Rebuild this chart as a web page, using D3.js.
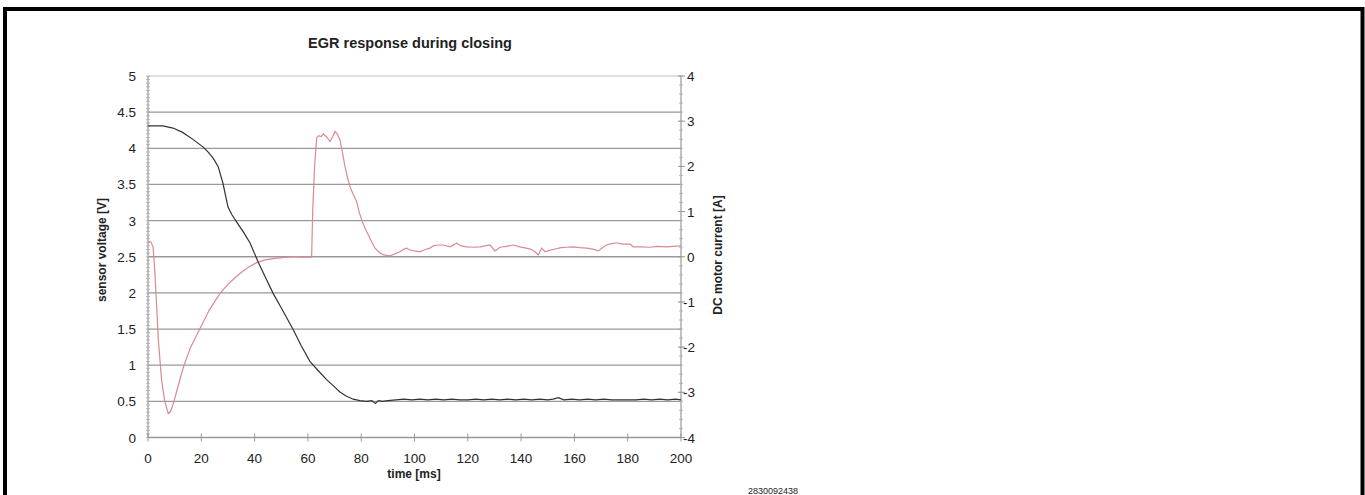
<!DOCTYPE html>
<html>
<head>
<meta charset="utf-8">
<script src="https://cdn.jsdelivr.net/npm/d3@7"></script>
<style>
  body { margin: 0; background: #fff; }
  svg text { font-family: "Liberation Sans", Arial, sans-serif; fill: #222; }
</style>
</head>
<body>
<svg id="chart" width="1365" height="495"></svg>
<script>
// sensor voltage [V] (black)
var voltTime = [0, 3, 5.6, 9.4, 13, 17, 20.6, 22.5, 24.5, 26.3, 28.1, 30, 31.5, 33.3, 36, 38.3, 41.3, 44, 47, 50.5,
    54.5, 57.5, 60.8, 64, 67, 70, 72, 74.5, 77, 79.5, 82, 84, 85.3, 86.5, 88, 90, 93, 96,
    99, 102, 105, 108, 111, 114, 117, 120, 123, 126, 129, 132, 135, 138, 141, 144, 147, 150,
    152, 154, 156, 159, 162, 165, 168, 171, 174, 177, 180, 183, 186, 189, 192, 195, 198, 200];
var voltValues = [4.31, 4.31, 4.31, 4.28, 4.22, 4.12, 4.02, 3.95, 3.86, 3.75, 3.52, 3.19, 3.08, 2.98, 2.83, 2.69, 2.43, 2.22, 1.99, 1.76,
    1.49, 1.27, 1.05, 0.92, 0.80, 0.70, 0.63, 0.57, 0.53, 0.51, 0.50, 0.51, 0.47, 0.51, 0.50, 0.51, 0.52, 0.53,
    0.52, 0.53, 0.52, 0.53, 0.52, 0.53, 0.52, 0.52, 0.53, 0.52, 0.53, 0.52, 0.53, 0.52, 0.53, 0.52, 0.53, 0.52,
    0.53, 0.55, 0.52, 0.53, 0.52, 0.53, 0.52, 0.53, 0.52, 0.52, 0.52, 0.52, 0.53, 0.52, 0.53, 0.52, 0.53, 0.52];

// DC motor current [A] (red)
var currTime = [0, 1, 1.9, 2.6, 3.9, 5.1, 6.3, 7.6, 8.5, 9.5, 11.3, 13.3, 16, 19.5, 23, 27, 30.5, 34.5, 37.5, 40.8,
    44, 47, 50.5, 54.5, 58, 61.4, 61.8, 62.5, 63.3, 64, 65, 65.8, 67, 68.3, 69.3, 70.2, 71, 72, 73, 73.9,
    75, 75.8, 77, 78.3, 79.2, 80.2, 81.5, 82.7, 84, 85.2, 86.7, 88.3, 90.8, 92.5, 94.6, 96, 97, 98.3, 100, 102,
    104, 105.8, 107, 108.8, 110.8, 113.3, 115.8, 117.5, 119.6, 122, 124.6, 126.5, 128.3, 130.2, 131, 132, 134.5, 137, 139.5, 142,
    143.5, 145.2, 146.4, 147.7, 149, 150.5, 152, 155, 157, 159.6, 162, 164.6, 167, 169, 170.5, 172, 174, 175.9, 178, 180.9,
    182, 185, 188.4, 191, 194.6, 197, 200];
var currValues = [0.33, 0.33, 0.22, -0.36, -1.85, -2.73, -3.2, -3.47, -3.42, -3.25, -2.86, -2.44, -2.0, -1.59, -1.18, -0.81, -0.58, -0.37, -0.24, -0.13,
    -0.07, -0.04, -0.02, 0, -0.01, -0.01, 1.0, 2.0, 2.63, 2.68, 2.66, 2.72, 2.65, 2.55, 2.66, 2.77, 2.72, 2.59, 2.3, 2.0,
    1.72, 1.55, 1.38, 1.22, 1.0, 0.81, 0.62, 0.48, 0.32, 0.19, 0.1, 0.04, 0.02, 0.06, 0.11, 0.17, 0.19, 0.15, 0.13, 0.11,
    0.16, 0.19, 0.24, 0.26, 0.26, 0.22, 0.30, 0.24, 0.22, 0.21, 0.22, 0.24, 0.26, 0.13, 0.16, 0.21, 0.23, 0.26, 0.22, 0.19,
    0.17, 0.11, 0.04, 0.19, 0.11, 0.14, 0.16, 0.2, 0.21, 0.22, 0.2, 0.19, 0.17, 0.13, 0.2, 0.26, 0.29, 0.31, 0.28, 0.28,
    0.22, 0.22, 0.21, 0.23, 0.22, 0.23, 0.24];

var timeTicks = [0, 20, 40, 60, 80, 100, 120, 140, 160, 180, 200];
var voltTicks = [0, 0.5, 1, 1.5, 2, 2.5, 3, 3.5, 4, 4.5, 5];
var currTicks = [-4, -3, -2, -1, 0, 1, 2, 3, 4];

var svg = d3.select("#chart");

var x = d3.scaleLinear().domain([0, 200]).range([148, 681]),
    yL = d3.scaleLinear().domain([0, 5]).range([437.5, 76]),
    yR = d3.scaleLinear().domain([-4, 4]).range([437.5, 76]);

// frame round the picture
svg.append("rect")
    .attr("x", 5).attr("y", 9)
    .attr("width", 1357.5).attr("height", 520)
    .attr("fill", "none").attr("stroke", "#000").attr("stroke-width", 4);

// horizontal grid on the voltage ticks
svg.append("g").selectAll("line")
    .data(voltTicks.filter(function(d){ return d > 0; }))
    .enter().append("line")
    .attr("x1", x(0)).attr("x2", x(200))
    .attr("y1", function(d){ return yL(d); })
    .attr("y2", function(d){ return yL(d); })
    .attr("stroke", function(d){ return d === 5 ? "#d4d4d4" : "#999"; })
    .attr("stroke-width", 1.3);

// left axis
var axL = svg.append("g").attr("transform", "translate(" + x(0) + ",0)");
axL.append("line")
    .attr("y1", yL(0)).attr("y2", yL(5))
    .attr("stroke", "#999").attr("stroke-width", 1.2);
axL.selectAll(".minL")
    .data(d3.range(0, 101))
    .enter().append("line")
    .attr("x1", -2).attr("x2", 2)
    .attr("y1", function(d){ return yL(d * 0.05); })
    .attr("y2", function(d){ return yL(d * 0.05); })
    .attr("stroke", "#aaa").attr("stroke-width", 0.8);
axL.selectAll(".labL")
    .data(voltTicks)
    .enter().append("text")
    .attr("x", -12)
    .attr("y", function(d){ return yL(d) + 5; })
    .attr("text-anchor", "end")
    .style("font-size", "13.5px")
    .text(function(d){ return String(d); });

// right axis
var axR = svg.append("g").attr("transform", "translate(" + x(200) + ",0)");
axR.append("line")
    .attr("y1", yR(-4)).attr("y2", yR(4))
    .attr("stroke", "#999").attr("stroke-width", 1.2);
axR.selectAll(".minR")
    .data(d3.range(0, 41))
    .enter().append("line")
    .attr("x1", -2).attr("x2", 2)
    .attr("y1", function(d){ return yR(-4 + d * 0.2); })
    .attr("y2", function(d){ return yR(-4 + d * 0.2); })
    .attr("stroke", "#aaa").attr("stroke-width", 0.8);
axR.selectAll(".majR")
    .data(currTicks)
    .enter().append("line")
    .attr("x1", -3).attr("x2", 4)
    .attr("y1", function(d){ return yR(d); })
    .attr("y2", function(d){ return yR(d); })
    .attr("stroke", "#999").attr("stroke-width", 1);
axR.selectAll(".labR")
    .data(currTicks)
    .enter().append("text")
    .attr("x", function(d){ return d < 0 ? 2 : 6; })
    .attr("y", function(d){ return yR(d) + 5; })
    .style("font-size", "13.5px")
    .text(function(d){ return d < 0 ? "-" + Math.abs(d) : String(d); });

// bottom axis
var axB = svg.append("g");
axB.append("line")
    .attr("x1", x(0)).attr("x2", x(200))
    .attr("y1", yL(0)).attr("y2", yL(0))
    .attr("stroke", "#999").attr("stroke-width", 1.3);
axB.selectAll(".majB")
    .data(timeTicks)
    .enter().append("line")
    .attr("x1", function(d){ return x(d); })
    .attr("x2", function(d){ return x(d); })
    .attr("y1", yL(0) - 4).attr("y2", yL(0) + 4)
    .attr("stroke", "#999").attr("stroke-width", 1);
axB.selectAll(".labB")
    .data(timeTicks)
    .enter().append("text")
    .attr("x", function(d){ return x(d); })
    .attr("y", 462.5)
    .attr("text-anchor", "middle")
    .style("font-size", "13.5px")
    .text(function(d){ return String(d); });

// the two traces
var voltData = voltTime.map(function(t, i){ return [t, voltValues[i]]; }),
    currData = currTime.map(function(t, i){ return [t, currValues[i]]; });

svg.append("path")
    .datum(currData)
    .attr("fill", "none")
    .attr("stroke", "#d98a92")
    .attr("stroke-width", 1.2)
    .attr("d", d3.line()
        .x(function(d){ return x(d[0]); })
        .y(function(d){ return yR(d[1]); }));

svg.append("path")
    .datum(voltData)
    .attr("fill", "none")
    .attr("stroke", "#333")
    .attr("stroke-width", 1.2)
    .attr("d", d3.line()
        .x(function(d){ return x(d[0]); })
        .y(function(d){ return yL(d[1]); }));

// titles
svg.append("text")
    .attr("x", 410).attr("y", 48)
    .attr("text-anchor", "middle")
    .style("font-size", "14.5px").style("font-weight", "bold")
    .text("EGR response during closing");

svg.append("text")
    .attr("x", 414).attr("y", 477.5)
    .attr("text-anchor", "middle")
    .style("font-size", "12px").style("font-weight", "bold")
    .text("time [ms]");

svg.append("text")
    .attr("transform", "translate(106,250) rotate(-90)")
    .attr("text-anchor", "middle")
    .style("font-size", "12px").style("font-weight", "bold")
    .text("sensor voltage [V]");

svg.append("text")
    .attr("transform", "translate(722,255) rotate(-90)")
    .attr("text-anchor", "middle")
    .style("font-size", "12px").style("font-weight", "bold")
    .text("DC motor current [A]");

svg.append("text")
    .attr("x", 748).attr("y", 494)
    .style("font-size", "9px")
    .text("2830092438");
</script>
</body>
</html>
